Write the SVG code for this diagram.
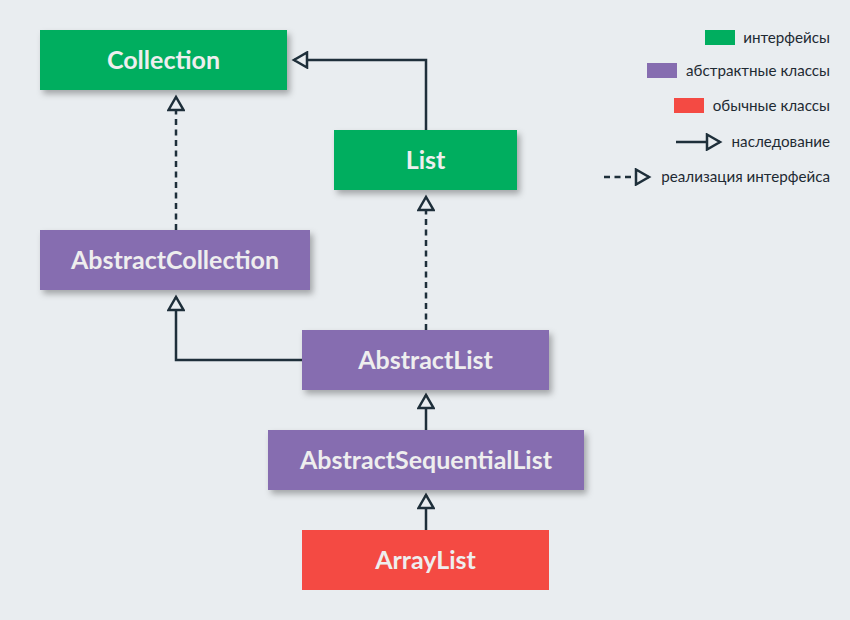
<svg xmlns="http://www.w3.org/2000/svg" width="850" height="620" viewBox="0 0 850 620">
<style>
.node text{font-family:Lato,"Open Sans","Liberation Sans",sans-serif;font-weight:bold;font-size:25px;fill:#EEEEEE;text-anchor:middle}
.g{fill:#00AE5F}.p{fill:#866DB0}.r{fill:#F44A43}
.ln{fill:none;stroke:#1E2F3A;stroke-width:2.5}
.d{stroke-dasharray:6 4.5}
.lg{font-family:Lato,"Open Sans","Liberation Sans",sans-serif;font-size:15.2px;fill:#1E2A33;text-anchor:end}
</style>
<defs>
<filter id="sh" x="-10%" y="-20%" width="125%" height="160%">
<feDropShadow dx="3" dy="4" stdDeviation="3" flood-color="#000" flood-opacity="0.3"/>
</filter>
<marker id="tri" markerWidth="18" markerHeight="18" viewBox="0 0 18 18" refX="15" refY="9" orient="auto" markerUnits="userSpaceOnUse">
<path d="M2,1.5 L15,9 L2,16.5 Z" fill="#E9EDF0" stroke="#1E2F3A" stroke-width="2.5" stroke-linejoin="miter"/>
</marker>
</defs>
<rect width="850" height="620" fill="#E9EDF0"/>
<g id="connectors">
<path class="ln" d="M426,130 V60 H294" marker-end="url(#tri)"/>
<path class="ln d" d="M176,230 V97" marker-end="url(#tri)"/>
<path class="ln" d="M302,360 H176 V297" marker-end="url(#tri)"/>
<path class="ln d" d="M426,330 V197" marker-end="url(#tri)"/>
<path class="ln" d="M426,430 V395" marker-end="url(#tri)"/>
<path class="ln" d="M426,530 V495" marker-end="url(#tri)"/>
</g>
<g id="Collection" class="node"><rect class="g" x="40" y="30" width="247" height="60" filter="url(#sh)"/><text x="163.5" y="69">Collection</text></g>
<g id="List" class="node"><rect class="g" x="334" y="130" width="183" height="60" filter="url(#sh)"/><text x="425.5" y="169">List</text></g>
<g id="AbstractCollection" class="node"><rect class="p" x="40" y="230" width="270" height="60" filter="url(#sh)"/><text x="175" y="269">AbstractCollection</text></g>
<g id="AbstractList" class="node"><rect class="p" x="302" y="330" width="247" height="60" filter="url(#sh)"/><text x="425.5" y="369">AbstractList</text></g>
<g id="AbstractSequentialList" class="node"><rect class="p" x="268" y="430" width="316" height="60" filter="url(#sh)"/><text x="426" y="469">AbstractSequentialList</text></g>
<g id="ArrayList" class="node"><rect class="r" x="302" y="530" width="247" height="60"/><text x="425.5" y="569">ArrayList</text></g>
<g id="legend">
<rect class="g" x="705" y="30" width="30" height="15"/><text class="lg" x="830" y="43">интерфейсы</text>
<rect class="p" x="647" y="63" width="30" height="15"/><text class="lg" x="830" y="76">абстрактные классы</text>
<rect class="r" x="674" y="98" width="30" height="15"/><text class="lg" x="830" y="111">обычные классы</text>
<path class="ln" d="M676,142 H720" marker-end="url(#tri)"/><text class="lg" x="830" y="147">наследование</text>
<path class="ln d" d="M604,177 H649" marker-end="url(#tri)"/><text class="lg" x="830" y="182">реализация интерфейса</text>
</g>
</svg>
